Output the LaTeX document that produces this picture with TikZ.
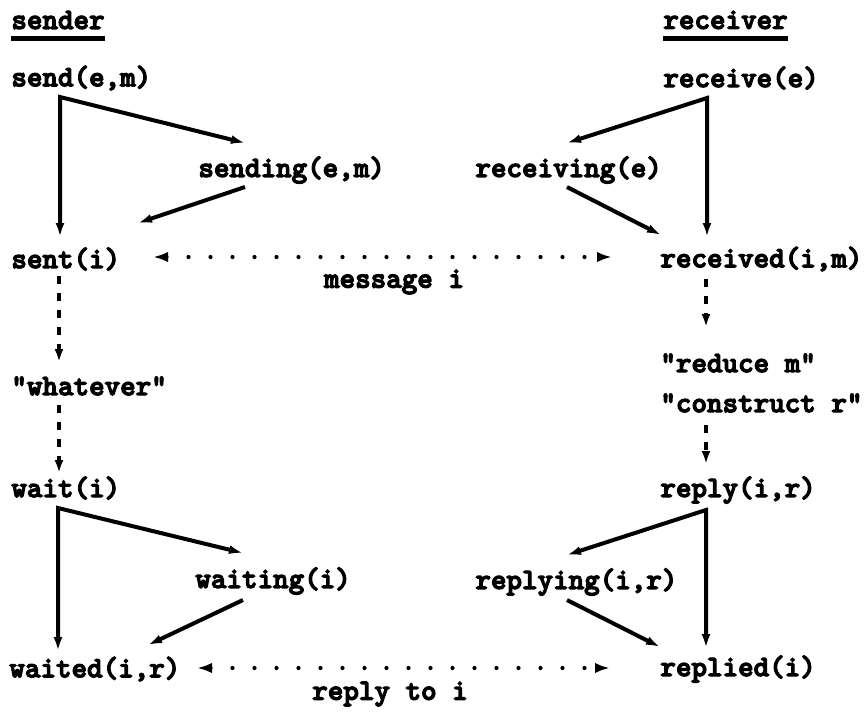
\documentclass[tikz,border=0pt]{standalone}
\usetikzlibrary{arrows.meta}
\font\tbf="[lmmonolt10-bold.otf]:embolden=4" at 14.8pt
\begin{document}
\begin{tikzpicture}[x=0.5pt,y=-0.5pt,
  lbl/.style={anchor=west,inner sep=0pt,font=\tbf},
  mid/.style={anchor=center,inner sep=0pt,font=\tbf},
  arr/.style={line width=2pt,line join=miter,-{Latex[length=7pt,width=4.5pt]}},
  darr/.style={line width=2pt,line join=miter,{Latex[length=7pt,width=4.5pt]}-{Latex[length=7pt,width=4.5pt]}},
  dots/.style={line width=2.1pt,line cap=round,dash pattern=on 0pt off 11pt,
    {Latex[length=7.5pt,width=5.2pt]}-{Latex[length=7.5pt,width=5.2pt]}},
  dsh/.style={line width=1.8pt,dash pattern=on 4pt off 4.5pt,-{Latex[length=6.5pt,width=4.5pt]}},
  uline/.style={line width=2.4pt}]
\useasboundingbox (0,0) rectangle (868,714);
% column headings
\node[lbl] (sender) at (11,20) {sender};
\node[lbl] (receiver) at (663,20) {receiver};
\draw[uline] ([yshift=-4.5pt]sender.south west) -- ([yshift=-4.5pt]sender.south east);
\draw[uline] ([yshift=-4.5pt]receiver.south west) -- ([yshift=-4.5pt]receiver.south east);
% sender side
\node[lbl] (send) at (11,78) {send(e,m)};
\node[lbl] (sending) at (198,170) {sending(e,m)};
\node[lbl] (sent) at (11,259) {sent(i)};
\node[lbl] (whatever) at (11,386) {"whatever"};
\node[lbl] (wait) at (11,488) {wait(i)};
\node[lbl] (waiting) at (195,581) {waiting(i)};
\node[lbl] (waited) at (9,669) {waited(i,r)};
% receiver side
\node[lbl] (receive) at (663,78) {receive(e)};
\node[lbl] (receiving) at (475,170) {receiving(e)};
\node[lbl] (received) at (660,259) {received(i,m)};
\node[lbl] (reduce) at (660,363) {"reduce m"};
\node[lbl] (construct) at (660,403) {"construct r"};
\node[lbl] (reply) at (660,490) {reply(i,r)};
\node[lbl] (replying) at (475,582) {replying(i,r)};
\node[lbl] (replied) at (660,669) {replied(i)};
% message labels
\node[mid] (msg) at (394,282) {message i};
\node[mid] (rto) at (390,694) {reply to i};
% connector end points
\coordinate (sc) at (60,97);
\coordinate (sendtip) at (60,237);
\coordinate (sendingin) at (245,143);
\coordinate (sendingout) at (245,187);
\coordinate (sentin) at (138,223);
\coordinate (rc) at (707,98);
\coordinate (recvtip) at (707,237);
\coordinate (receivingin) at (567,143);
\coordinate (receivingout) at (567,187);
\coordinate (receivedin) at (661,235);
\coordinate (m1) at (153,257);
\coordinate (m2) at (612,257);
\coordinate (d1a) at (59,276);
\coordinate (d1b) at (59,362);
\coordinate (d2a) at (59,405);
\coordinate (d2b) at (59,473);
\coordinate (d3a) at (706,279);
\coordinate (d3b) at (706,327);
\coordinate (d4a) at (706,425);
\coordinate (d4b) at (706,464);
\coordinate (wc) at (58,508);
\coordinate (waittip) at (58,651);
\coordinate (waitingin) at (243,553);
\coordinate (waitingout) at (243,600);
\coordinate (waitedin) at (148,645);
\coordinate (pc) at (706,510);
\coordinate (replytip) at (706,648);
\coordinate (replyingin) at (567,555);
\coordinate (replyingout) at (567,600);
\coordinate (repliedin) at (660,647);
\coordinate (r1) at (197,668);
\coordinate (r2) at (610,668);
% sender connectors
\draw[darr] (sendingin) -- (sc) -- (sendtip);
\draw[arr] (sendingout) -- (sentin);
\draw[dsh] (d1a) -- (d1b);
\draw[dsh] (d2a) -- (d2b);
\draw[darr] (waitingin) -- (wc) -- (waittip);
\draw[arr] (waitingout) -- (waitedin);
% receiver connectors
\draw[darr] (receivingin) -- (rc) -- (recvtip);
\draw[arr] (receivingout) -- (receivedin);
\draw[dsh] (d3a) -- (d3b);
\draw[dsh] (d4a) -- (d4b);
\draw[darr] (replyingin) -- (pc) -- (replytip);
\draw[arr] (replyingout) -- (repliedin);
% messages
\draw[dots] (m1) -- (m2);
\draw[dots] (r1) -- (r2);
\end{tikzpicture}
\end{document}
